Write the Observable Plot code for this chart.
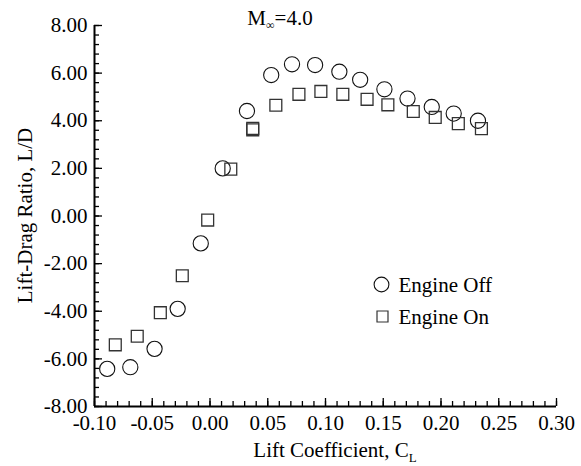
<!DOCTYPE html>
<html>
<head>
<meta charset="utf-8">
<script src="https://cdn.jsdelivr.net/npm/d3@7"></script>
<script src="https://cdn.jsdelivr.net/npm/@observablehq/plot@0.6"></script>
<style>
  body { margin: 0; background: #fff; }
  svg { display: block; }
  svg text { font-family: "Liberation Serif", "Times New Roman", serif !important; }
</style>
</head>
<body>
<div id="chart"></div>
<script>
// Lift coefficient and lift-drag ratio, engine off (circles)
const offCL = [-0.089, -0.069, -0.048, -0.028, -0.008, 0.011, 0.032, 0.053, 0.071, 0.091, 0.112, 0.130, 0.151, 0.171, 0.192, 0.211, 0.232];
const offLD = [-6.42, -6.35, -5.58, -3.90, -1.15, 2.00, 4.41, 5.92, 6.37, 6.34, 6.06, 5.72, 5.32, 4.93, 4.58, 4.30, 4.00];

// Engine on (squares)
const onCL = [-0.082, -0.063, -0.043, -0.024, -0.002, 0.018, 0.037, 0.037, 0.057, 0.077, 0.096, 0.115, 0.136, 0.154, 0.176, 0.195, 0.215, 0.235];
const onLD = [-5.41, -5.05, -4.06, -2.51, -0.17, 1.97, 3.62, 3.68, 4.65, 5.11, 5.23, 5.11, 4.90, 4.67, 4.39, 4.14, 3.88, 3.67];

const xTicks = [-0.10, -0.05, 0.00, 0.05, 0.10, 0.15, 0.20, 0.25, 0.30];
const yTicks = [-8, -6, -4, -2, 0, 2, 4, 6, 8];
const xMinor = d3.range(-10, 31).map(i => i / 100);
const yMinor = d3.range(-20, 21).map(i => i * 0.4);

const legendLabels = ["Engine Off", "Engine On"];

const offData = offCL.map((x, i) => ({x, y: offLD[i]}));
const onData = onCL.map((x, i) => ({x, y: onLD[i]}));

const W = 581, H = 466;
const mL = 94, mR = 25, mT = 25, mB = 60;
const plotW = W - mL - mR, plotH = H - mT - mB;
const FONT = "Liberation Serif, Times New Roman, serif";

const plot = Plot.plot({
  width: W,
  height: H,
  marginLeft: mL,
  marginRight: mR,
  marginTop: mT,
  marginBottom: mB,
  style: {fontFamily: FONT, fontSize: "21px", color: "#000", background: "#fff", overflow: "visible"},
  x: {domain: [-0.10, 0.30], axis: null},
  y: {domain: [-8, 8], axis: null},
  marks: [
    // tick labels
    Plot.axisX({ticks: xTicks, tickSize: 0, tickPadding: 9, tickFormat: d => d.toFixed(2), fontSize: 21, fontFamily: FONT, label: null}),
    Plot.axisY({ticks: yTicks, tickSize: 0, tickPadding: 7, tickFormat: d => d.toFixed(2), fontSize: 21, fontFamily: FONT, label: null}),
    // inward ticks, minor then major
    Plot.ruleX(xMinor, {x: d => d, insetTop: plotH - 5, stroke: "#000", strokeWidth: 1.3}),
    Plot.ruleX(xTicks, {x: d => d, insetTop: plotH - 8, stroke: "#000", strokeWidth: 1.3}),
    Plot.ruleY(yMinor, {y: d => d, insetRight: plotW - 5, stroke: "#000", strokeWidth: 1.3}),
    Plot.ruleY(yTicks, {y: d => d, insetRight: plotW - 8, stroke: "#000", strokeWidth: 1.3}),
    // axis lines
    Plot.ruleX([-0.10], {stroke: "#000", strokeWidth: 2}),
    Plot.ruleY([-8], {stroke: "#000", strokeWidth: 2}),
    // data
    Plot.dot(offData, {x: "x", y: "y", r: 7.6, symbol: "circle", fill: "none", stroke: "#111", strokeWidth: 1.1}),
    Plot.dot(onData, {x: "x", y: "y", r: 6.7, symbol: "square", fill: "none", stroke: "#333", strokeWidth: 1.3}),
    // legend
    Plot.dot([legendLabels[0]], {frameAnchor: "top-left", dx: 381 - mL, dy: 284 - mT, r: 7.4, symbol: "circle", fill: "none", stroke: "#111", strokeWidth: 1.1}),
    Plot.dot([legendLabels[1]], {frameAnchor: "top-left", dx: 382 - mL, dy: 316 - mT, r: 6.2, symbol: "square", fill: "none", stroke: "#333", strokeWidth: 1.2}),
    Plot.text([legendLabels[0]], {frameAnchor: "top-left", lineAnchor: "middle", dx: 398 - mL, dy: 285 - mT, text: d => d, textAnchor: "start", fontSize: 21, fontFamily: FONT, fill: "#000"}),
    Plot.text([legendLabels[1]], {frameAnchor: "top-left", lineAnchor: "middle", dx: 398 - mL, dy: 317 - mT, text: d => d, textAnchor: "start", fontSize: 21, fontFamily: FONT, fill: "#000"})
  ]
});

document.getElementById("chart").appendChild(plot);

// Titles with subscripts
const svg = d3.select(plot);

const title = svg.append("text")
  .attr("x", 280).attr("y", 25)
  .attr("font-family", FONT).attr("font-size", 21).attr("fill", "#000");
title.append("tspan").text("M");
title.append("tspan").attr("font-size", 12).attr("dy", 4).text("∞");
title.append("tspan").attr("dy", -4).text("=4.0");

const xTitle = svg.append("text")
  .attr("x", 335).attr("y", 457)
  .attr("text-anchor", "middle")
  .attr("font-family", FONT).attr("font-size", 21).attr("fill", "#000");
xTitle.append("tspan").text("Lift Coefficient, C");
xTitle.append("tspan").attr("font-size", 13).attr("dy", 5).text("L");

svg.append("text")
  .attr("transform", `translate(32,${(mT + H - mB) / 2}) rotate(-90)`)
  .attr("text-anchor", "middle")
  .attr("font-family", FONT).attr("font-size", 21).attr("fill", "#000")
  .text("Lift-Drag Ratio, L/D");
</script>
</body>
</html>
